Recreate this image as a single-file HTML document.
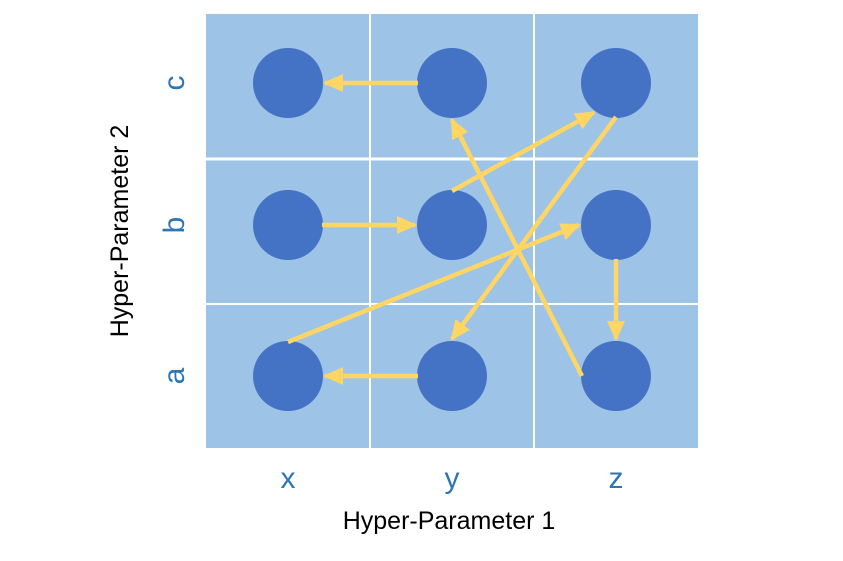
<!DOCTYPE html>
<html><head><meta charset="utf-8"><style>
body{margin:0;background:#fff;width:843px;height:556px;overflow:hidden;font-family:"Liberation Sans",sans-serif}
</style></head><body>
<svg id="chart" width="843" height="556" xmlns="http://www.w3.org/2000/svg">
<defs><marker id="ah" markerWidth="4.5" markerHeight="4" refX="4" refY="2" orient="auto" markerUnits="strokeWidth"><path d="M0,0 L4.5,2 L0,4 Z" fill="#FFD663"/></marker></defs>
</svg>
<script>
const xCats=['x','y','z'];
const yCats=['a','b','c'];
// points as [xIndex, yIndex]
const points=[[0,0],[1,0],[2,0],[0,1],[1,1],[2,1],[0,2],[1,2],[2,2]];
// arrows: [fromX, fromY, toX, toY]
const arrows=[[1,2,0,2],[0,1,1,1],[1,1,2,2],[2,2,1,0],[0,0,2,1],[2,0,1,2],[2,1,2,0],[1,0,0,0]];
// attach sides on circles for each arrow: [startSide, endSide]
const sides=[['left','right'],['right','left'],['top','bl'],['bottom','top'],['top','left'],['left','bottom'],['bottom','top'],['left','right']];
const svg=document.getElementById('chart');
const NS='http://www.w3.org/2000/svg';
const L=206,R=698,T=14,B=448;
function cx(i){return [288,452,616][i];}
function cy(j){return [376,225,83][j];}
const dirs={left:[-1,0],right:[1,0],top:[0,-1],bottom:[0,1],bl:[-0.6,0.8]};
function mk(t,a,p){const e=document.createElementNS(NS,t);for(const k in a)e.setAttribute(k,a[k]);(p||svg).appendChild(e);return e;}
const bg=mk('rect',{x:L,y:T,width:R-L,height:B-T,fill:'#9DC3E6'});


[370,534].forEach(x=>{const l=mk('line',{x1:x,x2:x,y1:T,y2:B,stroke:'#fff','stroke-width':2});});
[[159,3],[304,2]].forEach(([y,w])=>{const l=mk('line',{x1:L,x2:R,y1:y,y2:y,stroke:'#fff','stroke-width':w});});
points.forEach(p=>{const c=mk('circle',{cx:cx(p[0]),cy:cy(p[1]),r:35,fill:'#4472C4'});

});
arrows.forEach((a,i)=>{
  const ds=dirs[sides[i][0]],de=dirs[sides[i][1]];
  const x1=cx(a[0])+ds[0]*34,y1=cy(a[1])+ds[1]*34;
  const x2=cx(a[2])+de[0]*37,y2=cy(a[3])+de[1]*37;
  const l=mk('line',{x1:x1,y1:y1,x2:x2,y2:y2,stroke:'#FFD663','stroke-width':4.5,'marker-end':'url(#ah)'});
  
  
});
xCats.forEach((c,i)=>{const t=mk('text',{x:cx(i),y:488,'text-anchor':'middle','font-size':30,fill:'#2E75B6'});t.textContent=c;
});
yCats.forEach((c,j)=>{const t=mk('text',{x:0,y:0,'text-anchor':'middle','font-size':30,fill:'#2E75B6',transform:`translate(184,${cy(j)}) rotate(-90)`});t.textContent=c;
});
const xt=mk('text',{x:449,y:529,'text-anchor':'middle','font-size':25,fill:'#000'});xt.textContent='Hyper-Parameter 1';

const yt=mk('text',{x:0,y:0,'text-anchor':'middle','font-size':25,fill:'#000',transform:'translate(128,231) rotate(-90)'});yt.textContent='Hyper-Parameter 2';

</script>
</body></html>
